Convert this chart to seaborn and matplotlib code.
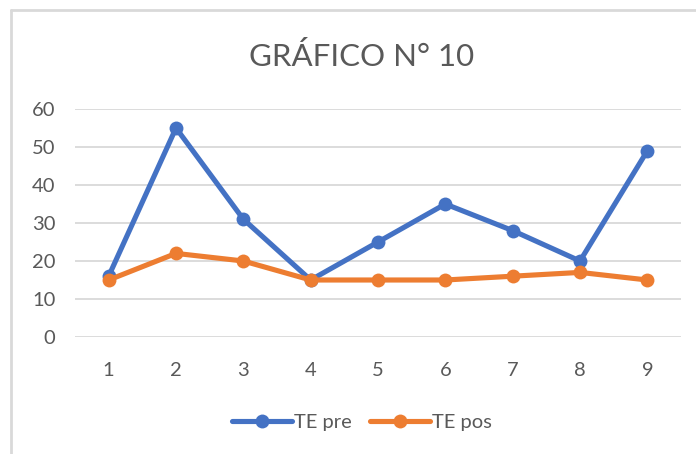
import pandas as pd
import seaborn as sns
import matplotlib.pyplot as plt
from matplotlib.lines import Line2D

# data
sesiones = [1, 2, 3, 4, 5, 6, 7, 8, 9]
te_pre = [16, 55, 31, 15, 25, 35, 28, 20, 49]
te_pos = [15, 22, 20, 15, 15, 15, 16, 17, 15]
series = ["TE pre", "TE pos"]
colores = ["#4472C4", "#ED7D31"]

df = pd.DataFrame({"x": sesiones * 2,
                   "valor": te_pre + te_pos,
                   "serie": [series[0]] * 9 + [series[1]] * 9})

sns.set_style("white")
plt.rcParams['font.family'] = ['Lato', 'DejaVu Sans']

fig = plt.figure(figsize=(6.96, 4.54), dpi=100)
ax = fig.add_axes([75 / 696, 1 - 337 / 454, 606 / 696, 228 / 454])

sns.lineplot(data=df, x="x", y="valor", hue="serie", palette=colores,
             marker="o", markersize=10, markeredgewidth=0, linewidth=3.7,
             legend=False, ax=ax, clip_on=False)

ax.set_xlim(0.5, 9.5)
ax.set_ylim(0, 60)
ax.set_xticks(sesiones)
ax.set_yticks(range(0, 61, 10))
ax.grid(axis="y", color="#d9d9d9", linewidth=1.3)
ax.set_axisbelow(True)
for s in ["top", "right", "left", "bottom"]:
    ax.spines[s].set_visible(False)
ax.tick_params(axis="both", length=0, labelsize=14.5, labelcolor="#595959")
ax.tick_params(axis="y", pad=14)
ax.tick_params(axis="x", pad=18)
ax.set_xlabel("")
ax.set_ylabel("")

fig.text(0.52, 1 - 56 / 454, "GRÁFICO N° 10", ha="center", va="center",
         fontsize=22.5, color="#595959")

handles = [Line2D([0], [0], color=c, linewidth=3.7, marker="o", markersize=10,
                  markeredgewidth=0) for c in colores]
fig.legend(handles, series, loc="center", bbox_to_anchor=(0.52, 1 - 422 / 454),
           ncol=2, frameon=False, fontsize=14.5, labelcolor="#595959",
           handlelength=3.0, handletextpad=0.1, columnspacing=0.9)

# chart area border (Excel style)
fig.add_artist(Line2D([11 / 696, 1], [1 - 10 / 454, 1 - 10 / 454],
                      transform=fig.transFigure, color="#d9d9d9", linewidth=2))
fig.add_artist(Line2D([11 / 696, 11 / 696], [0, 1 - 10 / 454],
                      transform=fig.transFigure, color="#d9d9d9", linewidth=2))

fig.savefig("out.png", dpi=100, facecolor="white")
